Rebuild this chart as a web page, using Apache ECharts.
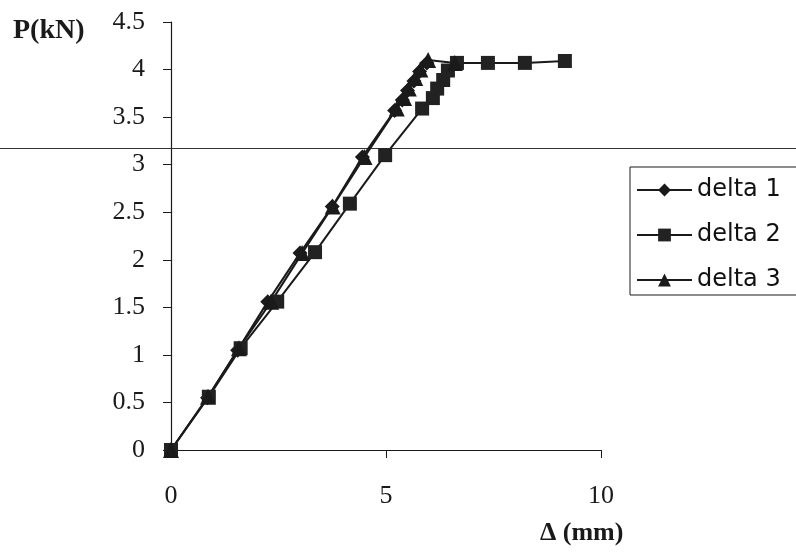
<!DOCTYPE html>
<html>
<head>
<meta charset="utf-8">
<script src="https://cdn.jsdelivr.net/npm/echarts@6/dist/echarts.min.js"></script>
<style>html,body{margin:0;padding:0;background:#fff}#c{width:796px;height:552px}</style>
</head>
<body>
<div id="c"></div>
<script>
// Data (deflection in mm, load in kN)
const delta1X = [0, 0.85, 1.55, 2.25, 3.0, 3.75, 4.45, 5.2, 5.38, 5.5, 5.65, 5.78, 5.95];
const delta1Y = [0, 0.55, 1.05, 1.56, 2.07, 2.56, 3.08, 3.57, 3.68, 3.78, 3.88, 3.98, 4.07];
const delta2X = [0, 0.88, 1.62, 2.47, 3.35, 4.16, 4.98, 5.84, 6.09, 6.19, 6.33, 6.44, 6.65, 7.37, 8.23, 9.16];
const delta2Y = [0, 0.56, 1.07, 1.56, 2.08, 2.59, 3.10, 3.59, 3.70, 3.80, 3.89, 3.99, 4.07, 4.07, 4.07, 4.09];
const delta3X = [0, 0.86, 1.58, 2.33, 3.05, 3.76, 4.5, 5.25, 5.42, 5.53, 5.68, 5.8, 5.98, 6.6];
const delta3Y = [0, 0.56, 1.07, 1.56, 2.07, 2.56, 3.08, 3.59, 3.70, 3.80, 3.91, 4.00, 4.10, 4.07];
const seriesNames = ['delta 1', 'delta 2', 'delta 3'];
const xTicks = {min: 0, max: 10, interval: 5};
const yTicks = {min: 0, max: 4.5, interval: 0.5};

const pair = (xs, ys) => xs.map((x, i) => [x, ys[i]]);
const ink = '#1a1a1a';
const serif = '"Liberation Serif","Times New Roman",serif';

const chart = echarts.init(document.getElementById('c'));
chart.setOption({
  backgroundColor: '#fff',
  animation: false,
  grid: {left: 171, top: 22, width: 430, height: 428, containLabel: false},
  xAxis: {
    type: 'value', min: xTicks.min, max: xTicks.max, interval: xTicks.interval,
    axisLine: {show: true, onZero: false, lineStyle: {color: ink, width: 1.2}},
    axisTick: {show: true, inside: false, length: 8, lineStyle: {color: ink}},
    splitLine: {show: false},
    axisLabel: {margin: 33, fontFamily: serif, fontSize: 26, color: ink}
  },
  yAxis: {
    type: 'value', min: yTicks.min, max: yTicks.max, interval: yTicks.interval,
    axisLine: {show: true, onZero: false, lineStyle: {color: ink, width: 1.2}},
    axisTick: {show: true, inside: false, length: 8, lineStyle: {color: ink}},
    splitLine: {show: false},
    axisLabel: {margin: 26, fontFamily: serif, fontSize: 26, color: ink}
  },
  legend: {
    orient: 'vertical', left: 630, top: 167,
    data: seriesNames,
    itemWidth: 55, itemHeight: 16, itemGap: 21, itemTextGap: 9,
    padding: [11, 40, 3, 6],
    borderColor: ink, borderWidth: 1,
    textStyle: {fontFamily: '"DejaVu Sans",Arial,sans-serif', fontSize: 24, color: '#111', lineHeight: 24}
  },
  graphic: [
    {type: 'line', shape: {x1: 0, y1: 148.5, x2: 796, y2: 148.5}, style: {stroke: '#333', lineWidth: 1}, z: 1},
    {type: 'text', left: 13, top: 17, style: {text: 'P(kN)', font: 'bold 28px ' + serif, fill: ink}},
    {type: 'text', left: 540, top: 520, style: {text: 'Δ (mm)', font: 'bold 26px ' + serif, fill: ink}}
  ],
  series: [
    {name: seriesNames[0], type: 'line', data: pair(delta1X, delta1Y), symbol: 'diamond', symbolSize: 15,
     lineStyle: {color: ink, width: 2}, itemStyle: {color: ink}},
    {name: seriesNames[1], type: 'line', data: pair(delta2X, delta2Y), symbol: 'rect', symbolSize: 14,
     lineStyle: {color: ink, width: 2}, itemStyle: {color: '#222'}},
    {name: seriesNames[2], type: 'line', data: pair(delta3X, delta3Y), symbol: 'triangle', symbolSize: 16,
     lineStyle: {color: ink, width: 2}, itemStyle: {color: ink}}
  ]
});
</script>
</body>
</html>
